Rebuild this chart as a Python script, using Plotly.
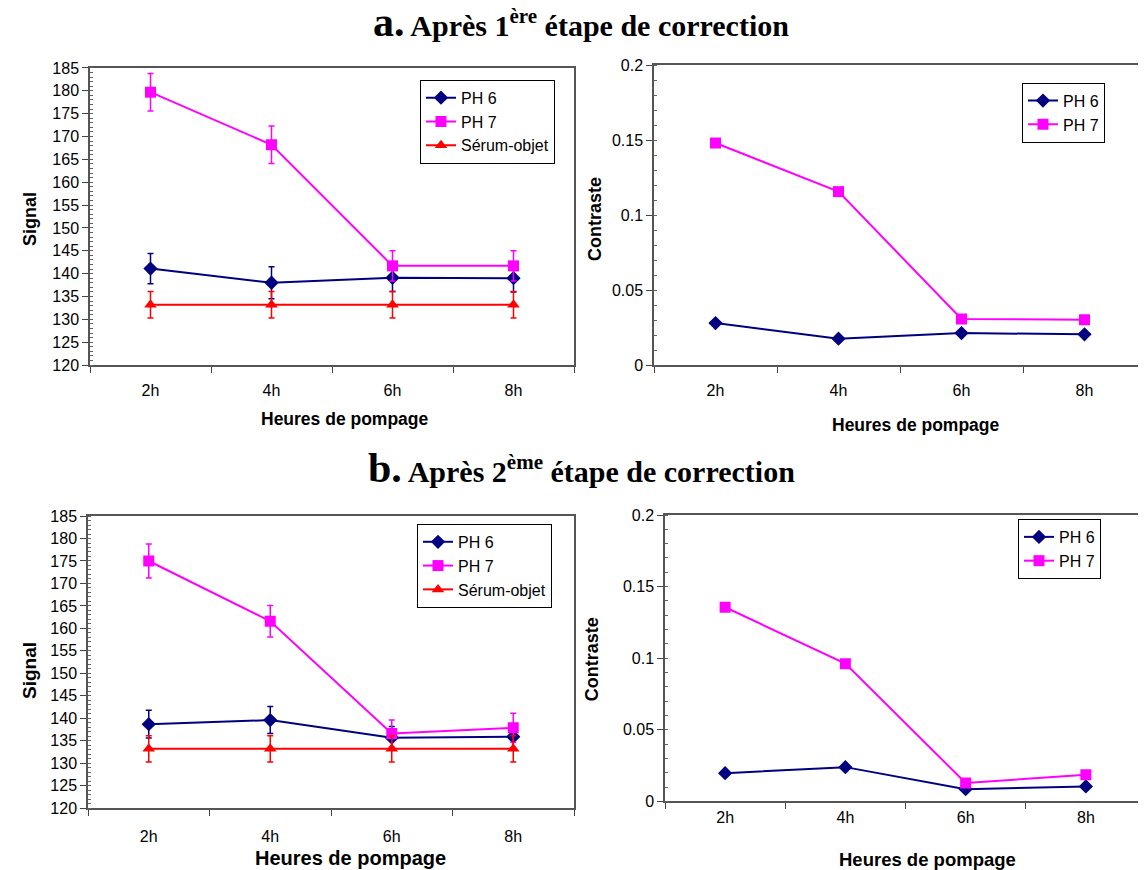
import plotly.graph_objects as go

hours = ["2h", "4h", "6h", "8h"]

# a. après 1ère étape
sig_a_ph6 = [141.1, 138.0, 139.1, 139.0]
sig_a_ph6_err = [3.3, 3.5, 3.0, 3.0]
sig_a_ph7 = [179.7, 168.2, 141.7, 141.7]
sig_a_ph7_err = [4.1, 4.1, 3.3, 3.3]
sig_a_serum = [133.2, 133.2, 133.2, 133.2]
sig_a_serum_err = [2.9, 2.9, 2.9, 2.9]
con_a_ph6 = [0.028, 0.0176, 0.0213, 0.0205]
con_a_ph7 = [0.148, 0.1156, 0.0307, 0.0302]

# b. après 2ème étape
sig_b_ph6 = [138.7, 139.6, 135.7, 135.9]
sig_b_ph6_err = [3.1, 3.0, 2.5, 2.5]
sig_b_ph7 = [175.0, 161.6, 136.6, 137.9]
sig_b_ph7_err = [3.8, 3.5, 3.0, 3.2]
sig_b_serum = [133.2, 133.2, 133.2, 133.2]
sig_b_serum_err = [2.9, 2.9, 2.9, 2.9]
con_b_ph6 = [0.0197, 0.0239, 0.0085, 0.0104]
con_b_ph7 = [0.1356, 0.0962, 0.0128, 0.0186]

NAVY = "#000080"
MAG = "#FF00FF"
RED = "#FF0000"
FONT = "Liberation Sans"

# page body margin puts the figure 8px in; positions below are screen pixels
W, H = 1146, 870
OFF = 8


def fx(sx):
    return min(max((sx - OFF) / W, 0), 1)


def fy(sy):
    return min(max(1 - (sy - OFF) / H, 0), 1)


fig = go.Figure()


def add_line(x, y, name, color, symbol, xa, ya, legend, err=None):
    fig.add_trace(go.Scatter(
        x=x, y=y, name=name, mode="lines+markers",
        line=dict(color=color, width=2),
        marker=dict(color=color, symbol=symbol, size=11),
        error_y=dict(type="data", array=err, color=color, thickness=1.5, width=3) if err else None,
        xaxis=xa, yaxis=ya, legend=legend,
    ))


# top left
add_line(hours, sig_a_ph6, "PH 6", NAVY, "diamond", "x", "y", "legend", sig_a_ph6_err)
add_line(hours, sig_a_ph7, "PH 7", MAG, "square", "x", "y", "legend", sig_a_ph7_err)
add_line(hours, sig_a_serum, "Sérum-objet", RED, "triangle-up", "x", "y", "legend", sig_a_serum_err)
# top right
add_line(hours, con_a_ph6, "PH 6", NAVY, "diamond", "x2", "y2", "legend2")
add_line(hours, con_a_ph7, "PH 7", MAG, "square", "x2", "y2", "legend2")
# bottom left
add_line(hours, sig_b_ph6, "PH 6", NAVY, "diamond", "x3", "y3", "legend3", sig_b_ph6_err)
add_line(hours, sig_b_ph7, "PH 7", MAG, "square", "x3", "y3", "legend3", sig_b_ph7_err)
add_line(hours, sig_b_serum, "Sérum-objet", RED, "triangle-up", "x3", "y3", "legend3", sig_b_serum_err)
# bottom right
add_line(hours, con_b_ph6, "PH 6", NAVY, "diamond", "x4", "y4", "legend4")
add_line(hours, con_b_ph7, "PH 7", MAG, "square", "x4", "y4", "legend4")


def xax(x0, x1, anchor, standoff):
    return dict(domain=[fx(x0), fx(x1)], anchor=anchor, type="category", range=[-0.5, 3.5],
                tickson="boundaries", ticks="outside", ticklen=6, tickcolor="#444",
                ticklabelstandoff=standoff,
                showline=True, linecolor="#555", linewidth=1.5, mirror=True, showgrid=False,
                tickfont=dict(family=FONT, size=16, color="black"))


def yax(top, bottom, anchor, rng, dtick, minor):
    return dict(domain=[fy(bottom), fy(top)], anchor=anchor, range=rng, dtick=dtick,
                ticks="outside", ticklen=6, tickcolor="#444", showgrid=False, zeroline=False,
                showline=True, linecolor="#555", linewidth=1.5, mirror=True,
                minor=dict(dtick=minor, ticks="inside", ticklen=3, tickcolor="#666"),
                tickfont=dict(family=FONT, size=16, color="black"))


def legend(x, y):
    return dict(x=fx(x), y=fy(y), xanchor="left", yanchor="top", bgcolor="white",
                bordercolor="black", borderwidth=1, font=dict(family=FONT, size=16, color="black"),
                itemwidth=30, tracegroupgap=0)


fig.update_layout(
    width=W, height=H, margin=dict(l=0, r=0, t=0, b=0),
    plot_bgcolor="white", paper_bgcolor="white",
    xaxis=xax(90, 574, "y", 10),
    yaxis=yax(61, 364, "x", [120, 185], 5, 1),
    xaxis2=xax(654, 1146, "y2", 10),
    yaxis2=yax(58, 364, "x2", [0, 0.2], 0.05, 0.01),
    xaxis3=xax(88, 574, "y3", 13),
    yaxis3=yax(518, 816, "x3", [120, 185], 5, 1),
    xaxis4=xax(665, 1146, "y4", 1),
    yaxis4=yax(517, 809, "x4", [0, 0.2], 0.05, 0.01),
    legend=legend(420, 73),
    legend2=legend(1022, 76),
    legend3=legend(417, 526),
    legend4=legend(1018, 521),
)

# axis titles as annotations (screen px positions)
axis_titles = [
    ("Signal", 30, 215, -90, 18), ("Contraste", 595, 215, -90, 18),
    ("Signal", 30, 676, -90, 19), ("Contraste", 592, 664, -90, 18),
    ("Heures de pompage", 345, 419, 0, 17.5), ("Heures de pompage", 916, 425, 0, 17.5),
    ("Heures de pompage", 350, 867, 0, 20), ("Heures de pompage", 927, 868, 0, 18.5),
]
for text, x, y, ang, size in axis_titles:
    fig.add_annotation(text="<b>%s</b>" % text, x=fx(x), y=fy(y), xref="paper", yref="paper",
                       xanchor="center", yanchor="middle", textangle=ang, showarrow=False,
                       font=dict(family=FONT, size=size, color="black"))

titles = [("a.", "1", "ère", 14), ("b.", "2", "ème", 469)]
for letter, num, sup, y in titles:
    fig.add_annotation(
        text="<b><span style='font-size:42px'>%s</span> Après %s<sup>%s</sup> étape de correction</b>" % (letter, num, sup),
        x=fx(581), y=fy(y), xref="paper", yref="paper", xanchor="center", yanchor="middle",
        showarrow=False, font=dict(family="Liberation Serif", size=30, color="black"))

fig.write_html("out.html")
